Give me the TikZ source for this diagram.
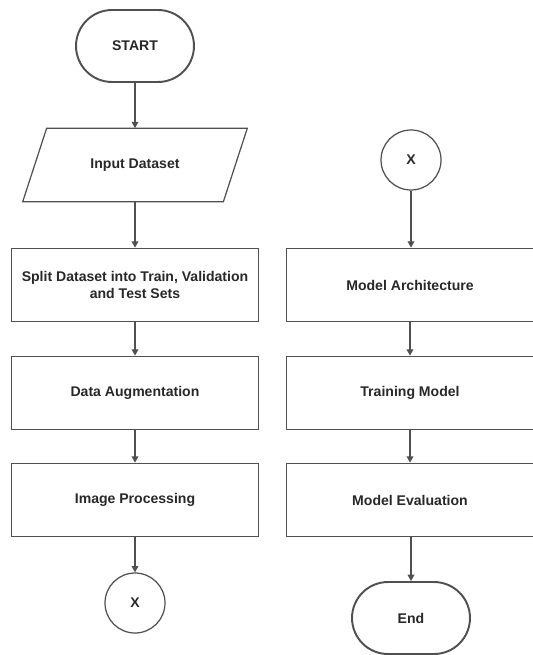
\documentclass[tikz,border=0pt]{standalone}
\usepackage{fontspec}
\setmainfont{Liberation Sans}
\usetikzlibrary{shapes.geometric, arrows.meta, positioning, calc}
\definecolor{linegray}{RGB}{80, 80, 80}
\definecolor{textdark}{RGB}{40, 40, 40}

\begin{document}
\begin{tikzpicture}[
    x=0.02cm, y=-0.02cm,
    every node/.style={font=\fontsize{8}{10.2}\selectfont\bfseries, text=textdark},
    term/.style={rectangle, draw=linegray, line width=1.1pt, fill=white,
                 rounded corners=0.72cm, minimum width=2.36cm, minimum height=1.44cm},
    iobox/.style={rectangle, minimum width=4.0cm, minimum height=1.46cm},
    ioline/.style={draw=linegray, line width=0.7pt},
    procbox/.style={rectangle, draw=linegray, line width=0.7pt,
                    minimum width=4.94cm, minimum height=1.47cm, align=center},
    conn/.style={circle, draw=linegray, line width=0.7pt, minimum size=1.2cm, inner sep=0pt},
    flow/.style={-{Triangle[length=3.6pt, width=3.8pt]}, line width=0.7pt, linegray}
]
\useasboundingbox (0,0) rectangle (533,655);

%% ── LEFT COLUMN ─────────────────────────────────────────────────────────────
\node[term]    (start)   at (135, 46)  {START};
\node[iobox]   (input)   at (135, 165) {Input Dataset};
\draw[ioline] ($(input.north west)+(12,0)$) -- ($(input.north east)+(12,0)$)
           -- ($(input.south east)+(-12,0)$) -- ($(input.south west)+(-12,0)$) -- cycle;
\node[procbox] (split)   at (135, 285) {Split Dataset into Train, Validation\\and Test Sets};
\node[procbox] (aug)     at (135, 393) {Data Augmentation};
\node[procbox] (imgproc) at (135, 500) {Image Processing};
\node[conn]    (xout)    at (135, 603) {X};

%% ── RIGHT COLUMN ────────────────────────────────────────────────────────────
\node[conn]    (xin)     at (411, 160) {X};
\node[procbox] (arch)    at (410, 285) {Model Architecture};
\node[procbox] (train)   at (410, 393) {Training Model};
\node[procbox] (eval)    at (410, 500) {Model Evaluation};
\node[term]    (stop)    at (411, 618) {End};

%% ── Flow ────────────────────────────────────────────────────────────────────
\draw[flow] (start)   -- (input);
\draw[flow] (input)   -- (split);
\draw[flow] (split)   -- (aug);
\draw[flow] (aug)     -- (imgproc);
\draw[flow] (imgproc) -- (xout);

\draw[flow] (xin)   -- (xin |- arch.north);
\draw[flow] (arch)  -- (train);
\draw[flow] (train) -- (eval);
\draw[flow] (eval.south -| stop) -- (stop);

\end{tikzpicture}
\end{document}
